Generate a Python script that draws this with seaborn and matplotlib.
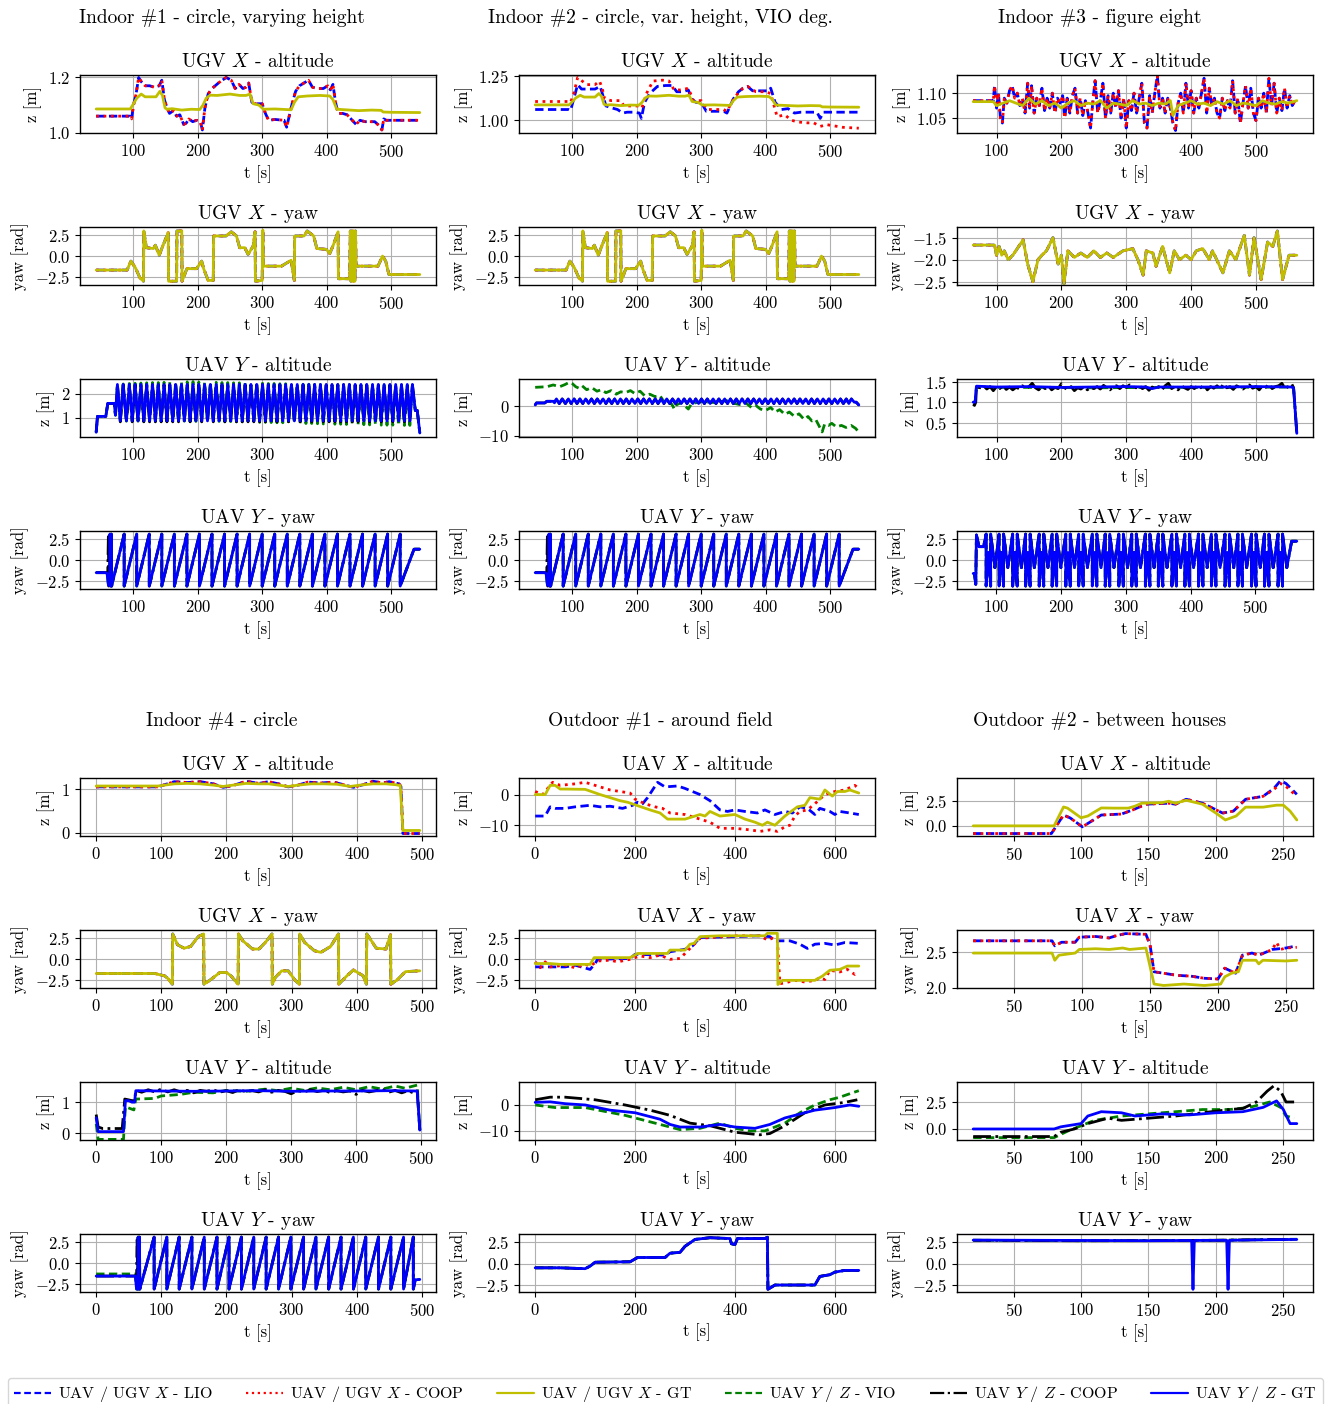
import matplotlib
matplotlib.use("Agg")
import matplotlib.pyplot as plt
import seaborn as sns
from matplotlib.lines import Line2D

# ---------------- data (t [s], value) ----------------
# Indoor #1 / #2 share the same ground truth flight
in1_ugv_alt_gt = [(42, 1.086), (95, 1.086), (100, 1.105), (105, 1.125), (112, 1.14), (118, 1.13), (125, 1.13),
                  (135, 1.13), (141, 1.15), (145, 1.135), (149, 1.09), (152, 1.085), (160, 1.087), (175, 1.082),
                  (190, 1.085), (203, 1.084), (208, 1.10), (213, 1.125), (219, 1.136), (230, 1.135), (250, 1.14),
                  (265, 1.135), (275, 1.135), (281, 1.14), (286, 1.105), (295, 1.10), (302, 1.085), (320, 1.086),
                  (345, 1.083), (350, 1.11), (356, 1.13), (370, 1.133), (390, 1.135), (405, 1.133), (410, 1.12),
                  (416, 1.085), (430, 1.083), (450, 1.08), (470, 1.082), (485, 1.081), (488, 1.075), (500, 1.074),
                  (545, 1.073)]
in1_ugv_alt_lio = [(42, 1.06), (94, 1.06), (97, 1.05), (100, 1.10), (104, 1.14), (108, 1.20), (112, 1.185),
                   (118, 1.17), (125, 1.17), (132, 1.165), (140, 1.17), (144, 1.19), (148, 1.12), (152, 1.09),
                   (156, 1.07), (162, 1.08), (167, 1.06), (172, 1.065), (178, 1.03), (182, 1.035), (186, 1.05),
                   (192, 1.04), (198, 1.045), (204, 1.04), (207, 1.01), (211, 1.09), (216, 1.14), (222, 1.16),
                   (232, 1.18), (244, 1.20), (252, 1.19), (258, 1.16), (264, 1.175), (270, 1.16), (275, 1.165),
                   (279, 1.18), (284, 1.11), (290, 1.105), (300, 1.105), (305, 1.07), (310, 1.045), (320, 1.048),
                   (334, 1.045), (338, 1.02), (342, 1.06), (347, 1.11), (352, 1.15), (358, 1.17), (365, 1.18),
                   (372, 1.19), (378, 1.165), (385, 1.16), (395, 1.16), (402, 1.17), (406, 1.155), (410, 1.175),
                   (414, 1.11), (418, 1.07), (425, 1.07), (432, 1.065), (438, 1.05), (446, 1.03), (452, 1.045),
                   (460, 1.04), (475, 1.04), (482, 1.025), (486, 1.01), (489, 1.05), (493, 1.045), (500, 1.045),
                   (545, 1.045)]
in2_ugv_alt_lio = [(42, 1.06), (94, 1.06), (97, 1.055), (102, 1.12), (108, 1.20), (114, 1.175), (125, 1.175),
                   (135, 1.175), (143, 1.19), (148, 1.13), (152, 1.08), (160, 1.07), (170, 1.06), (178, 1.04),
                   (185, 1.045), (195, 1.045), (204, 1.04), (207, 1.01), (212, 1.10), (220, 1.15), (232, 1.19),
                   (245, 1.195), (255, 1.195), (262, 1.16), (272, 1.16), (280, 1.17), (285, 1.12), (292, 1.10),
                   (300, 1.10), (308, 1.05), (320, 1.05), (335, 1.05), (340, 1.04), (350, 1.12), (358, 1.16),
                   (365, 1.18), (372, 1.19), (380, 1.165), (395, 1.165), (405, 1.165), (408, 1.18), (415, 1.10),
                   (425, 1.06), (435, 1.065), (445, 1.04), (455, 1.045), (470, 1.045), (480, 1.045), (485, 1.01),
                   (490, 1.045), (545, 1.045)]
in2_ugv_alt_coop = [(42, 1.105), (94, 1.105), (97, 1.10), (102, 1.15), (108, 1.24), (115, 1.22), (122, 1.20),
                    (135, 1.20), (142, 1.22), (146, 1.18), (150, 1.12), (160, 1.11), (175, 1.11), (180, 1.08),
                    (195, 1.08), (205, 1.08), (208, 1.07), (215, 1.15), (225, 1.22), (240, 1.225), (250, 1.22),
                    (258, 1.17), (270, 1.17), (280, 1.18), (288, 1.11), (300, 1.11), (310, 1.06), (335, 1.06),
                    (340, 1.05), (352, 1.13), (365, 1.18), (372, 1.19), (385, 1.16), (400, 1.16), (408, 1.15),
                    (418, 1.02), (430, 1.03), (440, 1.00), (450, 0.99), (465, 0.985), (475, 0.985), (485, 0.965),
                    (495, 0.975), (520, 0.96), (545, 0.955)]
in1_ugv_yaw = [(42, -1.67), (90, -1.67), (96, -0.6), (103, -1.4), (110, -2.6), (115.5, -3.0), (116, 3.0),
               (120, 1.0), (131, 0.9), (134, 1.3), (140, 0.1), (146, 1.3), (154, 2.8), (154.5, -3.0),
               (167, -3.0), (167.5, 3.0), (175, 3.0), (175.5, -3.0), (183, -1.5), (198, -1.5), (206, -0.6),
               (209, -1.5), (216, -2.9), (224, -2.9), (224.5, 2.4), (244, 2.4), (252, 2.9), (260, 2.4),
               (265, 1.0), (273, 1.0), (278, 0.2), (286, 1.2), (289, 2.9), (289.5, -3.0), (300, -2.9),
               (301, 3.1), (302, -1.2), (330, -1.2), (345, -0.5), (350, -2.9), (350.5, 2.4), (365, 2.4),
               (370, 3.0), (380, 2.4), (385, 0.9), (400, 0.8), (405, 0.3), (410, 1.2), (418, 2.9),
               (418.5, -2.7), (436, -2.7), (437, 3.0), (438, -3.0), (439, 3.0), (440, -3.0), (441, 3.0),
               (442, -3.0), (443, 3.0), (444, -3.0), (445, 3.0), (446, -1.2), (480, -1.2), (487, 0.0),
               (492, -0.6), (497, -2.2), (545, -2.2)]

# UAV Y altitude oscillation (indoor #1/#2)
in1_uav_start = [(42, 0.38), (44, 1.05), (57, 1.05), (60, 1.6), (70, 1.6), (72, 1.1)]
in1_uav_end = [(538, 1.3), (541, 1.3), (545, 0.35)]
in1_peak_t = [75, 84, 93.5, 102.5, 111.5, 120.5, 129.5, 138.5, 147.5, 156.5, 165.5, 174.5, 183.5, 192.5,
              201.5, 210.5, 219.5, 228.5, 237.5, 246.5, 255.5, 264.5, 273.5, 282.5, 291.5, 300.5, 309.5,
              318.5, 327.5, 336.5, 345.5, 354.5, 363.5, 372.5, 381.5, 390.5, 399.5, 408.5, 417.5, 426.5,
              435.5, 444.5, 453.5, 462.5, 471.5, 480.5, 489.5, 498.5, 507.5, 516.5, 525.5, 533.5]
in1_trough_t = [79.5, 89, 98, 107, 116, 125, 134, 143, 152, 161, 170, 179, 188, 197, 206, 215, 224, 233,
                242, 251, 260, 269, 278, 287, 296, 305, 314, 323, 332, 341, 350, 359, 368, 377, 386, 395,
                404, 413, 422, 431, 440, 449, 458, 467, 476, 485, 494, 503, 512, 521, 529.5]
in1_gt_hi, in1_gt_lo = 2.40, 0.86
in1_coop_hi, in1_coop_lo = 2.38, 0.82
in1_vio_hi = [2.40, 2.42, 2.44, 2.45, 2.46, 2.47, 2.48, 2.48, 2.49, 2.50, 2.50, 2.50, 2.51, 2.52, 2.50,
              2.50, 2.49, 2.49, 2.48, 2.48, 2.47, 2.47, 2.46, 2.46, 2.45, 2.45, 2.44, 2.44, 2.43, 2.43,
              2.42, 2.42, 2.41, 2.41, 2.40, 2.40, 2.40, 2.40, 2.39, 2.39, 2.39, 2.38, 2.38, 2.38, 2.38,
              2.37, 2.37, 2.37, 2.36, 2.36, 2.36, 2.36]
in1_vio_lo = [0.85, 0.85, 0.86, 0.85, 0.84, 0.85, 0.85, 0.84, 0.85, 0.85, 0.84, 0.85, 0.83, 0.84, 0.85,
              0.84, 0.83, 0.84, 0.82, 0.83, 0.82, 0.82, 0.81, 0.80, 0.80, 0.80, 0.79, 0.78, 0.78, 0.77,
              0.76, 0.76, 0.75, 0.75, 0.74, 0.73, 0.73, 0.72, 0.72, 0.71, 0.71, 0.70, 0.70, 0.69, 0.69,
              0.68, 0.68, 0.68, 0.67, 0.67, 0.67]
in2_uav_alt_vio = [(42, 6.3), (60, 6.5), (70, 7.1), (80, 6.5), (88, 7.2), (95, 8.0), (100, 7.5), (105, 6.5),
                   (110, 6.0), (115, 6.8), (122, 5.5), (130, 6.2), (138, 5.0), (145, 5.5), (152, 4.5),
                   (160, 5.2), (168, 4.0), (175, 4.8), (182, 4.5), (190, 5.2), (197, 4.2), (205, 5.0),
                   (212, 3.5), (220, 4.0), (228, 3.2), (236, 3.5), (242, 1.5), (250, 2.0), (256, 0.0),
                   (258, -1.0), (262, 0.5), (270, 1.2), (276, -0.2), (280, -1.0), (285, 0.8), (300, 1.5),
                   (320, 1.2), (340, 1.8), (350, 1.0), (360, 0.5), (370, 1.0), (378, -0.5), (385, 0.2),
                   (392, -1.0), (400, -1.5), (408, -0.5), (415, -2.0), (422, -1.2), (430, -2.8), (437, -2.0),
                   (445, -3.5), (452, -2.6), (460, -4.5), (466, -3.5), (472, -5.0), (478, -4.5), (484, -7.0),
                   (488, -8.7), (492, -6.0), (498, -6.5), (503, -5.8), (510, -7.0), (518, -6.5), (525, -7.2),
                   (533, -6.5), (540, -7.5), (545, -8.8)]
# UAV Y yaw wraps (+pi -> -pi) indoor #1/#2
in1_yaw_start = [(42, -1.5), (57, -1.5), (59, -1.6), (61, -3.0), (63, -3.0), (63.5, 3.1), (64.5, -3.1),
                 (65.5, 3.1), (66, -3.1)]
in1_yaw_wraps = [85.5, 105, 124.5, 144, 163.5, 183, 202.5, 222, 241.5, 261, 280.5, 300, 319.5, 339,
                 358.5, 378, 397.5, 417, 436.5, 456, 475.5, 495, 514.5]
in1_yaw_end = [(536, 1.3), (545, 1.3)]

# Indoor #3
in3_ugv_alt_gt = [(64, 1.083), (95, 1.083), (100, 1.075), (110, 1.08), (120, 1.085), (130, 1.08), (140, 1.075),
                  (150, 1.09), (160, 1.078), (170, 1.085), (180, 1.075), (190, 1.08), (200, 1.07), (210, 1.08),
                  (220, 1.085), (230, 1.075), (240, 1.08), (250, 1.078), (260, 1.085), (270, 1.07), (280, 1.08),
                  (290, 1.078), (300, 1.075), (310, 1.085), (320, 1.078), (330, 1.08), (340, 1.075), (350, 1.08),
                  (360, 1.078), (368, 1.085), (372, 1.055), (380, 1.075), (390, 1.08), (400, 1.085), (410, 1.078),
                  (420, 1.08), (430, 1.075), (440, 1.083), (450, 1.078), (460, 1.085), (470, 1.075), (480, 1.08),
                  (490, 1.078), (500, 1.075), (510, 1.085), (520, 1.08), (530, 1.078), (540, 1.083), (550, 1.08),
                  (563, 1.085)]
in3_ugv_alt_lio = [(64, 1.085), (95, 1.085), (97, 1.115), (100, 1.07), (103, 1.10), (106, 1.05), (109, 1.04),
                   (112, 1.09), (116, 1.08), (120, 1.105), (124, 1.115), (128, 1.09), (132, 1.10), (136, 1.075),
                   (140, 1.09), (144, 1.06), (148, 1.12), (151, 1.07), (154, 1.115), (158, 1.06), (162, 1.09),
                   (166, 1.075), (170, 1.11), (174, 1.065), (178, 1.09), (182, 1.07), (186, 1.10), (190, 1.06),
                   (194, 1.09), (198, 1.08), (202, 1.095), (205, 1.05), (209, 1.09), (213, 1.06), (217, 1.095),
                   (221, 1.11), (225, 1.06), (229, 1.09), (233, 1.055), (237, 1.085), (241, 1.06), (245, 1.03),
                   (249, 1.09), (252, 1.125), (256, 1.06), (260, 1.085), (264, 1.12), (268, 1.05), (272, 1.095),
                   (276, 1.06), (280, 1.10), (284, 1.07), (288, 1.105), (292, 1.05), (296, 1.09), (300, 1.03),
                   (304, 1.085), (308, 1.065), (312, 1.10), (316, 1.06), (320, 1.09), (324, 1.12), (328, 1.04),
                   (332, 1.03), (336, 1.095), (340, 1.06), (344, 1.10), (348, 1.135), (352, 1.07), (356, 1.09),
                   (360, 1.06), (364, 1.09), (368, 1.07), (372, 1.04), (376, 1.025), (380, 1.08), (384, 1.10),
                   (388, 1.06), (392, 1.12), (396, 1.07), (400, 1.105), (404, 1.06), (408, 1.09), (412, 1.07),
                   (416, 1.10), (420, 1.13), (424, 1.06), (428, 1.11), (432, 1.075), (436, 1.09), (440, 1.06),
                   (444, 1.05), (448, 1.09), (452, 1.065), (456, 1.085), (460, 1.07), (464, 1.125), (468, 1.06),
                   (472, 1.09), (476, 1.04), (480, 1.08), (484, 1.115), (488, 1.07), (492, 1.11), (496, 1.06),
                   (500, 1.045), (504, 1.09), (508, 1.07), (512, 1.10), (516, 1.06), (520, 1.13), (524, 1.075),
                   (528, 1.12), (532, 1.06), (536, 1.09), (540, 1.065), (544, 1.11), (548, 1.07), (552, 1.095),
                   (556, 1.075), (560, 1.085)]
in3_ugv_yaw = [(64, -1.67), (97, -1.67), (100, -1.9), (104, -1.7), (108, -1.9), (112, -1.8), (118, -2.0),
               (125, -1.9), (132, -1.75), (141, -1.55), (148, -2.1), (156, -2.5), (164, -2.0), (170, -1.9),
               (177, -1.8), (187, -1.5), (195, -2.1), (200, -1.9), (204, -2.55), (210, -1.8), (220, -1.95),
               (230, -1.85), (240, -1.95), (250, -1.8), (260, -1.95), (270, -1.85), (280, -1.95), (295, -1.8),
               (310, -1.75), (318, -2.0), (326, -2.35), (331, -1.8), (341, -1.85), (346, -2.15), (356, -1.7),
               (367, -2.3), (374, -1.8), (382, -2.0), (392, -1.9), (400, -2.0), (408, -1.8), (418, -1.75),
               (428, -2.0), (433, -1.8), (449, -2.3), (459, -1.8), (469, -2.0), (482, -1.45), (490, -2.35),
               (497, -1.5), (508, -2.45), (518, -1.6), (526, -1.7), (533, -1.35), (541, -2.45), (551, -1.9),
               (556, -1.9), (563, -1.9)]
in3_uav_alt_gt = [(64, 1.0), (67, 1.0), (69, 1.39), (100, 1.37), (150, 1.38), (200, 1.36), (250, 1.37),
                  (300, 1.38), (330, 1.37), (340, 1.33), (350, 1.37), (400, 1.37), (450, 1.37), (500, 1.38),
                  (555, 1.37), (558, 1.35), (563, 0.24)]
in3_uav_alt_vio = [(64, 1.0), (67, 1.0), (69, 1.36), (150, 1.36), (250, 1.35), (350, 1.36), (450, 1.36),
                   (555, 1.37), (558, 1.35), (563, 0.22)]
in3_uav_alt_coop = [(64, 0.95), (66, 0.92), (68, 1.0), (69, 1.38), (75, 1.35), (80, 1.40), (85, 1.32),
                    (90, 1.38), (95, 1.28), (100, 1.38), (105, 1.33), (110, 1.40), (115, 1.31), (120, 1.37),
                    (125, 1.30), (130, 1.36), (135, 1.33), (140, 1.40), (145, 1.32), (150, 1.38), (155, 1.46),
                    (160, 1.35), (165, 1.30), (170, 1.38), (175, 1.33), (180, 1.40), (185, 1.30), (190, 1.36),
                    (195, 1.33), (200, 1.45), (205, 1.35), (210, 1.30), (215, 1.38), (220, 1.28), (225, 1.35),
                    (230, 1.32), (235, 1.38), (240, 1.30), (245, 1.36), (250, 1.33), (255, 1.38), (260, 1.32),
                    (265, 1.41), (270, 1.35), (275, 1.30), (280, 1.38), (285, 1.40), (290, 1.33), (295, 1.40),
                    (300, 1.36), (305, 1.42), (310, 1.38), (315, 1.35), (320, 1.40), (325, 1.33), (330, 1.38),
                    (335, 1.29), (340, 1.37), (345, 1.33), (350, 1.38), (355, 1.30), (360, 1.40), (365, 1.46),
                    (370, 1.33), (375, 1.38), (380, 1.30), (385, 1.40), (390, 1.35), (395, 1.31), (400, 1.38),
                    (405, 1.33), (410, 1.40), (415, 1.35), (420, 1.42), (425, 1.30), (430, 1.38), (435, 1.34),
                    (440, 1.40), (445, 1.32), (450, 1.45), (455, 1.35), (460, 1.38), (465, 1.31), (470, 1.40),
                    (475, 1.36), (480, 1.32), (485, 1.38), (490, 1.42), (495, 1.34), (500, 1.38), (505, 1.30),
                    (510, 1.40), (515, 1.36), (520, 1.44), (525, 1.33), (530, 1.38), (535, 1.40), (540, 1.46),
                    (545, 1.33), (550, 1.38), (555, 1.45), (558, 1.35), (563, 0.25)]
in3_yaw_start = [(64, -1.6), (66, -1.6), (68, -2.9), (69, 3.0), (73, 1.6), (80, 1.6)]
in3_hill_start = [84, 104, 125, 145, 166, 186, 207, 227, 248, 268, 289, 309, 330, 350, 371, 391, 412,
                  432, 453, 473, 494, 514, 535]
in3_hill_top = [87.5, 107.5, 128.5, 148.5, 169.5, 189.5, 210.5, 230.5, 251.5, 271.5, 292.5, 312.5, 333.5,
                353.5, 374.5, 394.5, 415.5, 435.5, 456.5, 476.5, 497.5, 517.5, 538.5]
in3_hill_end = [91, 111, 132, 152, 173, 193, 214, 234, 255, 275, 296, 316, 337, 357, 378, 398, 419, 439,
                460, 480, 501, 521, 542]
in3_valley_t = [97.5, 117.5, 138.5, 158.5, 179.5, 199.5, 220.5, 240.5, 261.5, 281.5, 302.5, 322.5, 343.5,
                363.5, 384.5, 404.5, 425.5, 445.5, 466.5, 486.5, 507.5, 527.5, 548.5]
in3_yaw_end = [(556, 2.25), (564, 2.25)]

# Indoor #4
in4_ugv_alt_gt = [(0, 1.07), (95, 1.07), (105, 1.09), (120, 1.12), (140, 1.13), (160, 1.12), (180, 1.09),
                  (195, 1.06), (210, 1.09), (230, 1.13), (250, 1.12), (265, 1.12), (280, 1.09), (295, 1.06),
                  (310, 1.09), (330, 1.12), (350, 1.12), (370, 1.11), (390, 1.06), (405, 1.09), (425, 1.12),
                  (445, 1.12), (460, 1.10), (467, 1.08), (471, 0.05), (497, 0.05)]
in4_ugv_alt_lio = [(0, 1.05), (95, 1.05), (105, 1.10), (120, 1.17), (140, 1.15), (160, 1.17), (180, 1.12),
                   (195, 1.04), (210, 1.08), (230, 1.18), (250, 1.13), (265, 1.17), (280, 1.12), (295, 1.05),
                   (310, 1.09), (325, 1.16), (345, 1.14), (365, 1.16), (385, 1.08), (395, 1.04), (410, 1.10),
                   (425, 1.18), (440, 1.14), (450, 1.17), (465, 1.12), (468, 1.06), (471, -0.02), (497, -0.02)]
in4_ugv_yaw = [(0, -1.72), (90, -1.72), (105, -2.0), (110, -2.3), (117, -3.0), (117.5, 3.0), (125, 1.7),
               (135, 1.3), (145, 1.5), (157, 2.7), (165, 3.0), (165.5, -3.0), (175, -2.5), (190, -1.6),
               (200, -1.6), (207, -2.0), (218, -3.0), (218.5, 3.0), (225, 2.2), (240, 1.2), (250, 1.2),
               (260, 2.0), (270, 3.0), (270.5, -3.0), (275, -2.2), (285, -1.4), (295, -1.4), (305, -2.5),
               (312, -3.0), (312.5, 3.0), (320, 2.0), (335, 1.0), (345, 0.8), (360, 1.5), (368, 2.5),
               (372, 3.0), (372.5, -3.0), (385, -2.0), (395, -1.3), (410, -2.0), (415, -3.0), (415.5, 3.0),
               (420, 2.5), (430, 1.3), (445, 1.2), (452, 2.9), (452.5, -3.0), (462, -2.5), (475, -1.5),
               (497, -1.4)]
in4_uav_alt_gt = [(0, 0.5), (3, 0.05), (42, 0.05), (45, 1.05), (50, 1.05), (55, 1.0), (59, 1.0), (61, 1.37),
                  (100, 1.36), (150, 1.35), (200, 1.36), (250, 1.37), (300, 1.35), (350, 1.36), (400, 1.36),
                  (450, 1.37), (494, 1.36), (498, 0.1)]
in4_uav_alt_coop = [(0, 0.6), (3, 0.2), (10, 0.15), (40, 0.15), (44, 1.1), (55, 1.05), (59, 1.05), (61, 1.38),
                    (70, 1.32), (80, 1.40), (90, 1.33), (100, 1.42), (110, 1.33), (120, 1.40), (130, 1.33),
                    (140, 1.38), (150, 1.30), (160, 1.38), (170, 1.35), (180, 1.40), (190, 1.32), (200, 1.37),
                    (210, 1.31), (220, 1.40), (230, 1.34), (240, 1.37), (250, 1.33), (260, 1.40), (270, 1.32),
                    (280, 1.38), (290, 1.35), (300, 1.27), (310, 1.37), (320, 1.33), (330, 1.40), (340, 1.34),
                    (350, 1.38), (360, 1.31), (370, 1.37), (380, 1.33), (390, 1.36), (400, 1.25), (410, 1.38),
                    (420, 1.33), (430, 1.37), (440, 1.42), (450, 1.32), (460, 1.38), (470, 1.30), (480, 1.37),
                    (490, 1.28), (494, 1.35), (498, 0.1)]
in4_uav_alt_vio = [(0, 0.3), (3, -0.2), (42, -0.2), (45, 0.85), (58, 0.75), (61, 1.1), (90, 1.12), (100, 1.2),
                   (130, 1.25), (150, 1.32), (180, 1.3), (200, 1.38), (230, 1.35), (260, 1.42), (280, 1.37),
                   (300, 1.45), (320, 1.38), (340, 1.46), (360, 1.40), (380, 1.48), (400, 1.40), (420, 1.5),
                   (440, 1.42), (460, 1.52), (475, 1.45), (494, 1.55), (498, 0.1)]
in4_yaw_start = [(0, -1.55), (60, -1.55), (62, -3.1), (64, -3.1), (64.5, 3.1), (65.5, -3.1), (66.5, 3.1),
                 (67, -3.1)]
in4_yaw_wraps = [89, 108.5, 127.5, 147, 166, 185.5, 204, 223, 242, 261, 280, 299, 318.5, 337.5, 357, 376,
                 395, 414, 433.5, 452.5, 472, 487]
in4_yaw_end = [(490, -2.0), (497, -1.95)]

# Outdoor #1
out1_alt_gt = [(0, 0.0), (20, 0.0), (30, 3.0), (40, 3.0), (50, 1.8), (60, 1.8), (100, 1.7), (130, 0.0),
               (170, -2.0), (185, -2.5), (230, -5.0), (250, -6.0), (265, -8.0), (300, -8.0), (320, -7.0),
               (330, -6.5), (340, -7.0), (350, -5.5), (370, -7.0), (400, -6.5), (420, -8.0), (440, -9.0),
               (455, -10.0), (465, -9.0), (480, -10.0), (500, -7.0), (525, -4.0), (540, -3.5), (550, -1.0),
               (570, -1.5), (580, 1.5), (595, -0.5), (605, 1.0), (620, 1.0), (630, 1.5), (648, 0.5)]
out1_alt_lio = [(0, -7.0), (20, -7.0), (30, -4.0), (40, -4.5), (60, -4.5), (80, -4.0), (110, -3.5),
                (130, -4.0), (150, -3.8), (175, -4.5), (195, -3.5), (205, -2.5), (215, -3.0), (225, -1.0),
                (245, 4.0), (260, 2.5), (285, 2.8), (300, 2.0), (330, 0.0), (350, -2.0), (370, -5.0),
                (385, -5.5), (400, -5.0), (420, -5.5), (445, -6.0), (460, -5.0), (480, -6.5), (500, -5.5),
                (515, -6.0), (530, -4.0), (545, -4.5), (560, -6.5), (570, -4.5), (590, -5.5), (600, -6.5),
                (610, -5.5), (630, -6.0), (648, -6.5)]
out1_alt_coop = [(0, 1.0), (15, 0.0), (35, 4.0), (50, 3.0), (80, 3.5), (100, 4.0), (130, 2.5), (150, 1.5),
                 (190, 0.5), (200, -1.5), (220, -3.0), (240, -4.0), (255, -4.5), (270, -6.0), (300, -6.5),
                 (330, -8.0), (350, -9.0), (370, -11.0), (400, -11.0), (430, -11.5), (450, -12.0),
                 (470, -11.5), (485, -12.0), (500, -10.5), (510, -10.0), (520, -7.0), (530, -5.5),
                 (545, -5.0), (560, -3.0), (580, 0.0), (600, 1.0), (620, 1.5), (640, 3.0), (648, 2.0)]
out1_yaw_gt = [(0, -0.5), (30, -0.5), (50, -0.6), (110, -0.6), (118, 0.2), (190, 0.2), (205, 0.7), (265, 0.7),
               (270, 1.1), (300, 1.1), (310, 1.8), (318, 1.9), (330, 2.7), (370, 2.8), (460, 2.8), (465, 3.1),
               (485, 3.1), (486, -3.0), (495, -2.5), (560, -2.5), (575, -2.0), (590, -1.3), (610, -1.2),
               (625, -0.8), (648, -0.8)]
out1_yaw_lio = [(0, -0.9), (60, -0.9), (80, -0.7), (110, -1.2), (120, -0.5), (125, 0.0), (190, 0.1),
                (200, 0.6), (260, 0.5), (270, 0.9), (300, 1.2), (315, 1.6), (330, 2.6), (400, 2.7), (450, 2.8),
                (470, 2.7), (480, 2.2), (510, 2.2), (530, 1.8), (545, 1.3), (560, 1.8), (580, 1.9),
                (600, 1.7), (620, 2.0), (648, 1.9)]
out1_yaw_coop = [(0, -0.3), (10, -1.0), (20, -0.3), (30, -0.9), (60, -0.7), (80, -1.0), (100, -0.6),
                 (110, -0.8), (125, -0.2), (150, -0.1), (165, -0.3), (190, 0.0), (210, 0.4), (230, 0.2),
                 (250, 0.5), (270, 0.0), (290, 0.1), (310, 1.3), (330, 2.5), (400, 2.8), (450, 2.8),
                 (465, 2.3), (475, 2.5), (485, 2.3), (490, -2.9), (500, -2.8), (520, -2.5), (540, -2.7),
                 (560, -2.5), (570, -2.2), (580, -2.4), (590, -1.3), (610, -1.5), (625, -1.2), (640, -1.8),
                 (645, -1.5)]
out1_uav_alt_gt = [(0, 1.0), (30, 1.2), (60, 0.5), (100, 0.0), (150, -2.0), (200, -3.0), (250, -5.5),
                   (270, -7.5), (290, -8.5), (330, -8.5), (370, -7.5), (400, -8.5), (440, -9.0), (470, -7.5),
                   (500, -5.0), (530, -3.5), (560, -2.0), (600, -1.0), (630, 0.0), (648, -0.5)]
out1_uav_alt_coop = [(0, 2.0), (30, 3.0), (60, 3.0), (120, 2.0), (180, 0.0), (230, -2.0), (270, -4.0),
                     (310, -7.0), (350, -8.0), (400, -10.5), (450, -11.5), (470, -11.0), (500, -8.0),
                     (540, -3.0), (580, 0.0), (620, 1.0), (645, 2.0)]
out1_uav_alt_vio = [(0, 0.0), (40, -1.0), (100, -1.0), (180, -4.0), (220, -6.0), (260, -8.0), (290, -9.5),
                    (330, -9.0), (370, -7.0), (400, -9.0), (430, -10.0), (460, -10.0), (500, -7.0),
                    (530, -3.0), (560, 0.0), (590, 2.0), (610, 3.0), (640, 5.0), (648, 5.5)]
out1_uav_yaw = [(0, -0.5), (50, -0.5), (100, -0.6), (110, -0.3), (120, 0.15), (190, 0.2), (205, 0.7),
                (260, 0.7), (270, 1.2), (290, 1.3), (300, 2.0), (320, 2.8), (350, 3.0), (390, 2.9),
                (393, 2.3), (400, 2.2), (405, 2.9), (460, 2.9), (465, 3.05), (466, -3.0), (480, -2.5),
                (560, -2.5), (570, -1.5), (590, -1.3), (600, -1.0), (620, -0.8), (648, -0.8)]

# Outdoor #2
out2_alt_gt = [(20, 0.0), (80, 0.0), (87, 1.92), (90, 1.8), (100, 0.82), (105, 1.0), (115, 1.82),
               (125, 1.8), (135, 1.8), (140, 2.0), (145, 2.3), (160, 2.35), (165, 2.5), (170, 2.3),
               (178, 2.6), (190, 2.2), (200, 1.3), (207, 0.6), (215, 1.0), (222, 1.9), (235, 1.9),
               (245, 2.1), (250, 2.1), (255, 1.5), (260, 0.6)]
out2_alt_lio = [(20, -0.78), (78, -0.78), (87, 1.1), (92, 0.8), (100, 0.0), (101, -0.1), (108, 0.5),
                (115, 1.1), (130, 1.2), (138, 1.6), (148, 2.2), (165, 2.3), (170, 2.2), (178, 2.7),
                (190, 2.3), (205, 1.3), (213, 1.5), (222, 2.7), (235, 3.0), (243, 3.8), (248, 4.6),
                (252, 4.3), (260, 3.2)]
out2_alt_coop = [(20, -0.78), (78, -0.78), (87, 1.1), (92, 0.8), (100, 0.0), (101, -0.1), (108, 0.5),
                 (115, 1.1), (130, 1.2), (138, 1.6), (148, 2.2), (165, 2.3), (170, 2.2), (178, 2.7),
                 (190, 2.3), (205, 1.3), (213, 1.5), (222, 2.7), (235, 3.0), (243, 3.7), (248, 4.3),
                 (252, 4.0), (260, 3.0)]
out2_yaw_gt = [(20, 2.48), (78, 2.48), (80, 2.38), (83, 2.45), (95, 2.48), (98, 2.53), (110, 2.54),
               (120, 2.53), (130, 2.55), (135, 2.53), (147, 2.55), (150, 2.3), (153, 2.05), (160, 2.03),
               (175, 2.05), (190, 2.03), (202, 2.05), (205, 2.15), (210, 2.2), (215, 2.22), (218, 2.38),
               (228, 2.38), (230, 2.33), (233, 2.38), (250, 2.37), (258, 2.38)]
out2_yaw_lio = [(20, 2.65), (78, 2.65), (80, 2.58), (85, 2.63), (95, 2.63), (98, 2.70), (110, 2.71),
                (120, 2.69), (125, 2.72), (132, 2.75), (147, 2.74), (150, 2.6), (153, 2.22), (160, 2.2),
                (170, 2.17), (180, 2.16), (190, 2.13), (200, 2.12), (205, 2.27), (213, 2.2), (218, 2.45),
                (225, 2.48), (230, 2.45), (240, 2.53), (250, 2.55), (258, 2.58)]
out2_yaw_coop = [(20, 2.65), (78, 2.65), (80, 2.58), (85, 2.63), (95, 2.63), (98, 2.70), (110, 2.71),
                 (120, 2.69), (125, 2.72), (132, 2.75), (147, 2.74), (150, 2.6), (153, 2.22), (160, 2.2),
                 (170, 2.17), (180, 2.16), (190, 2.13), (200, 2.12), (205, 2.27), (213, 2.2), (218, 2.45),
                 (225, 2.48), (230, 2.45), (240, 2.53), (243, 2.63), (246, 2.53), (250, 2.55), (258, 2.56)]
out2_uav_alt_gt = [(20, 0.0), (80, 0.0), (85, 0.2), (100, 0.5), (105, 1.2), (115, 1.6), (130, 1.5),
                   (140, 1.2), (160, 1.4), (180, 1.3), (200, 1.5), (220, 1.6), (235, 2.0), (245, 2.6),
                   (250, 1.8), (255, 0.5), (260, 0.5)]
out2_uav_alt_coop = [(20, -0.7), (80, -0.7), (85, -0.3), (95, 0.0), (105, 0.5), (120, 1.0), (130, 0.8),
                     (150, 1.0), (170, 1.2), (190, 1.5), (210, 1.8), (220, 1.9), (230, 2.5), (238, 3.5),
                     (243, 4.0), (248, 3.5), (252, 2.5), (258, 2.5)]
out2_uav_alt_vio = [(20, -0.8), (80, -0.8), (90, -0.2), (100, 0.3), (110, 0.8), (130, 1.2), (160, 1.5),
                    (190, 1.8), (210, 1.8), (225, 2.0), (240, 2.5), (248, 2.0), (252, 1.2), (258, 1.0)]
out2_uav_yaw_gt = [(20, 2.72), (100, 2.68), (150, 2.65), (182, 2.68), (183, -3.0), (184, 2.68), (208, 2.7),
                   (209, -3.0), (210, 2.7), (230, 2.75), (260, 2.8)]
out2_uav_yaw_est = [(20, 2.7), (100, 2.65), (150, 2.66), (200, 2.7), (260, 2.82)]

group_titles = ["Indoor #1 - circle, varying height", "Indoor #2 - circle, var. height, VIO deg.",
                "Indoor #3 - figure eight", "Indoor #4 - circle", "Outdoor #1 - around field",
                "Outdoor #2 - between houses"]
legend_labels = ["UAV / UGV $X$ - LIO", "UAV / UGV $X$ - COOP", "UAV / UGV $X$ - GT",
                 "UAV $Y$ / $Z$ - VIO", "UAV $Y$ / $Z$ - COOP", "UAV $Y$ / $Z$ - GT"]


# ---------------- helpers to assemble vertex lists ----------------
def osc(start, peaks_t, hi, troughs_t, lo, end):
    hi = hi if isinstance(hi, list) else [hi] * len(peaks_t)
    lo = lo if isinstance(lo, list) else [lo] * len(troughs_t)
    pts = list(start)
    for i, p in enumerate(peaks_t):
        pts.append((p, hi[i]))
        if i < len(troughs_t):
            pts.append((troughs_t[i], lo[i]))
    return pts + list(end)


def saw(start, wraps, end):
    pts = list(start)
    for w in wraps:
        pts += [(w, 3.1), (w, -3.1)]
    return pts + list(end)


def eight_yaw(start, h0, htop, h1, valleys, end):
    pts = list(start)
    for a, b, c, v in zip(h0, htop, h1, valleys):
        pts += [(a, 3.1), (a, -3.1), (b, 0.9), (c, -3.1), (c, 3.1), (v, -0.9)]
    return pts + list(end)


in1_uav_gt = osc(in1_uav_start, in1_peak_t, in1_gt_hi, in1_trough_t, in1_gt_lo, in1_uav_end)
in1_uav_coop = osc(in1_uav_start, in1_peak_t, in1_coop_hi, in1_trough_t, in1_coop_lo, in1_uav_end)
in1_uav_vio = osc(in1_uav_start, in1_peak_t, in1_vio_hi, in1_trough_t, in1_vio_lo, in1_uav_end)
in1_uav_yaw = saw(in1_yaw_start, in1_yaw_wraps, in1_yaw_end)
in1_uav_yaw_coop = [(42, -1.5), (60, -1.5), (61, 3.1), (61.5, -3.1)] + in1_uav_yaw[4:]
in3_uav_yaw = eight_yaw(in3_yaw_start, in3_hill_start, in3_hill_top, in3_hill_end, in3_valley_t, in3_yaw_end)
in4_uav_yaw = saw(in4_yaw_start, in4_yaw_wraps, in4_yaw_end)
in4_uav_yaw_vio = [(0, -1.3), (60, -1.3)] + in4_uav_yaw[2:]
in4_uav_yaw_coop = [(0, -1.55), (62, -1.55), (63, 3.1), (63.5, -3.1)] + in4_uav_yaw[4:]

# ---------------- style ----------------
sns.set_style("ticks", {"axes.grid": True, "grid.color": "#b0b0b0", "axes.edgecolor": "black",
                        "xtick.color": "black", "ytick.color": "black", "text.color": "black",
                        "axes.labelcolor": "black"})
plt.rcParams.update({
    "font.family": ["cmr10", "DejaVu Serif"],
    "mathtext.fontset": "cm",
    "axes.formatter.use_mathtext": True,
    "axes.unicode_minus": True,
    "axes.linewidth": 1.0,
    "grid.linewidth": 0.8,
    "xtick.direction": "out",
    "ytick.direction": "out",
    "xtick.major.size": 3.5,
    "ytick.major.size": 3.5,
    "xtick.labelsize": 12,
    "ytick.labelsize": 12,
})

LW = 2.0
S_LIO = ("b", (0, (3.0, 1.6)))
S_COOPX = ("r", ":")
S_GTX = ("y", "-")
S_VIO = ("g", (0, (3.0, 1.6)))
S_COOPY = ("k", "-.")
S_GTY = ("b", "-")

YAW = ([-2.5, 0.0, 2.5], (-3.45, 3.47))
panels = [
    # (group, row, title, ylabel, series, (yticks, ylim))
    (0, 0, "UGV $X$ - altitude", "z [m]", [(in1_ugv_alt_lio, S_LIO), (in1_ugv_alt_lio, S_COOPX), (in1_ugv_alt_gt, S_GTX)], ([1.0, 1.2], (0.999, 1.209))),
    (0, 1, "UGV $X$ - yaw", "yaw [rad]", [(in1_ugv_yaw, S_LIO), (in1_ugv_yaw, S_COOPX), (in1_ugv_yaw, S_GTX)], YAW),
    (0, 2, "UAV $Y$ - altitude", "z [m]", [(in1_uav_vio, S_VIO), (in1_uav_coop, S_COOPY), (in1_uav_gt, S_GTY)], ([1, 2], (0.18, 2.63))),
    (0, 3, "UAV $Y$ - yaw", "yaw [rad]", [(in1_uav_yaw, S_VIO), (in1_uav_yaw_coop, S_COOPY), (in1_uav_yaw, S_GTY)], YAW),
    (1, 0, "UGV $X$ - altitude", "z [m]", [(in2_ugv_alt_lio, S_LIO), (in2_ugv_alt_coop, S_COOPX), (in1_ugv_alt_gt, S_GTX)], ([1.0, 1.25], (0.928, 1.254))),
    (1, 1, "UGV $X$ - yaw", "yaw [rad]", [(in1_ugv_yaw, S_LIO), (in1_ugv_yaw, S_COOPX), (in1_ugv_yaw, S_GTX)], YAW),
    (1, 2, "UAV $Y$ - altitude", "z [m]", [(in2_uav_alt_vio, S_VIO), (in1_uav_coop, S_COOPY), (in1_uav_gt, S_GTY)], ([-10, 0], (-10.4, 9.1))),
    (1, 3, "UAV $Y$ - yaw", "yaw [rad]", [(in1_uav_yaw, S_VIO), (in1_uav_yaw_coop, S_COOPY), (in1_uav_yaw, S_GTY)], YAW),
    (2, 0, "UGV $X$ - altitude", "z [m]", [(in3_ugv_alt_lio, S_LIO), (in3_ugv_alt_lio, S_COOPX), (in3_ugv_alt_gt, S_GTX)], ([1.05, 1.10], (1.020, 1.1365))),
    (2, 1, "UGV $X$ - yaw", "yaw [rad]", [(in3_ugv_yaw, S_LIO), (in3_ugv_yaw, S_COOPX), (in3_ugv_yaw, S_GTX)], ([-2.5, -2.0, -1.5], (-2.575, -1.26))),
    (2, 2, "UAV $Y$ - altitude", "z [m]", [(in3_uav_alt_vio, S_VIO), (in3_uav_alt_coop, S_COOPY), (in3_uav_alt_gt, S_GTY)], ([0.5, 1.0, 1.5], (0.15, 1.565))),
    (2, 3, "UAV $Y$ - yaw", "yaw [rad]", [(in3_uav_yaw, S_VIO), (in3_uav_yaw, S_COOPY), (in3_uav_yaw, S_GTY)], YAW),
    (3, 0, "UGV $X$ - altitude", "z [m]", [(in4_ugv_alt_lio, S_LIO), (in4_ugv_alt_lio, S_COOPX), (in4_ugv_alt_gt, S_GTX)], ([0, 1], (-0.077, 1.254))),
    (3, 1, "UGV $X$ - yaw", "yaw [rad]", [(in4_ugv_yaw, S_LIO), (in4_ugv_yaw, S_COOPX), (in4_ugv_yaw, S_GTX)], YAW),
    (3, 2, "UAV $Y$ - altitude", "z [m]", [(in4_uav_alt_vio, S_VIO), (in4_uav_alt_coop, S_COOPY), (in4_uav_alt_gt, S_GTY)], ([0, 1], (-0.22, 1.65))),
    (3, 3, "UAV $Y$ - yaw", "yaw [rad]", [(in4_uav_yaw_vio, S_VIO), (in4_uav_yaw_coop, S_COOPY), (in4_uav_yaw, S_GTY)], YAW),
    (4, 0, "UAV $X$ - altitude", "z [m]", [(out1_alt_lio, S_LIO), (out1_alt_coop, S_COOPX), (out1_alt_gt, S_GTX)], ([-10, 0], (-13.5, 5.4))),
    (4, 1, "UAV $X$ - yaw", "yaw [rad]", [(out1_yaw_lio, S_LIO), (out1_yaw_coop, S_COOPX), (out1_yaw_gt, S_GTX)], ([-2.5, 0.0, 2.5], (-3.41, 3.49))),
    (4, 2, "UAV $Y$ - altitude", "z [m]", [(out1_uav_alt_vio, S_VIO), (out1_uav_alt_coop, S_COOPY), (out1_uav_alt_gt, S_GTY)], ([-10, 0], (-13.5, 8.85))),
    (4, 3, "UAV $Y$ - yaw", "yaw [rad]", [(out1_uav_yaw, S_VIO), (out1_uav_yaw, S_COOPY), (out1_uav_yaw, S_GTY)], ([-2.5, 0.0, 2.5], (-3.31, 3.43))),
    (5, 0, "UAV $X$ - altitude", "z [m]", [(out2_alt_lio, S_LIO), (out2_alt_coop, S_COOPX), (out2_alt_gt, S_GTX)], ([0.0, 2.5], (-1.03, 4.86))),
    (5, 1, "UAV $X$ - yaw", "yaw [rad]", [(out2_yaw_lio, S_LIO), (out2_yaw_coop, S_COOPX), (out2_yaw_gt, S_GTX)], ([2.0, 2.5], (1.995, 2.80))),
    (5, 2, "UAV $Y$ - altitude", "z [m]", [(out2_uav_alt_vio, S_VIO), (out2_uav_alt_coop, S_COOPY), (out2_uav_alt_gt, S_GTY)], ([0.0, 2.5], (-1.02, 4.35))),
    (5, 3, "UAV $Y$ - yaw", "yaw [rad]", [(out2_uav_yaw_est, S_VIO), (out2_uav_yaw_est, S_COOPY), (out2_uav_yaw_gt, S_GTY)], ([-2.5, 0.0, 2.5], (-3.31, 3.43))),
]

W, H = 1336, 1404
fig = plt.figure(figsize=(W / 100, H / 100), dpi=100)

col_left = [80, 519, 957]
row_top = [[75, 227, 379, 531], [778, 930, 1082, 1234]]
title_x = [222, 660, 1100]
title_y = [18, 721]

for g, name in enumerate(group_titles):
    fig.text(title_x[g % 3] / W, 1 - title_y[g // 3] / H, name, ha="center", va="center", fontsize=14)

for g, r, title, ylab, series, (yt, yl) in panels:
    left = col_left[g % 3]
    top = row_top[g // 3][r]
    ax = fig.add_axes([left / W, 1 - (top + 58) / H, 356 / W, 58 / H])
    for pts, (color, ls) in series:
        t, v = zip(*pts)
        sns.lineplot(x=list(t), y=list(v), ax=ax, color=color, linestyle=ls, linewidth=LW,
                     sort=False, estimator=None, legend=False)
    ax.set_yticks(yt)
    ax.set_ylim(*yl)
    ax.set_title(title, fontsize=14, pad=6)
    ax.set_xlabel("t [s]", fontsize=12)
    ax.set_ylabel(ylab, fontsize=12)
    ax.grid(True, color="#b0b0b0", linewidth=0.8)

handles = [Line2D([], [], color=c, linestyle=ls, linewidth=1.6) for c, ls in
           [S_LIO, S_COOPX, S_GTX, S_VIO, S_COOPY, S_GTY]]
fig.legend(handles, legend_labels, loc="upper left", bbox_to_anchor=(8 / W, 1 - 1378 / H, 1315 / W, 0),
           mode="expand", ncol=6, fontsize=11.5, frameon=True, edgecolor="#cccccc", fancybox=True,
           handlelength=2.3, handletextpad=0.45, borderaxespad=0.0)

fig.savefig("out.png", dpi=100)
